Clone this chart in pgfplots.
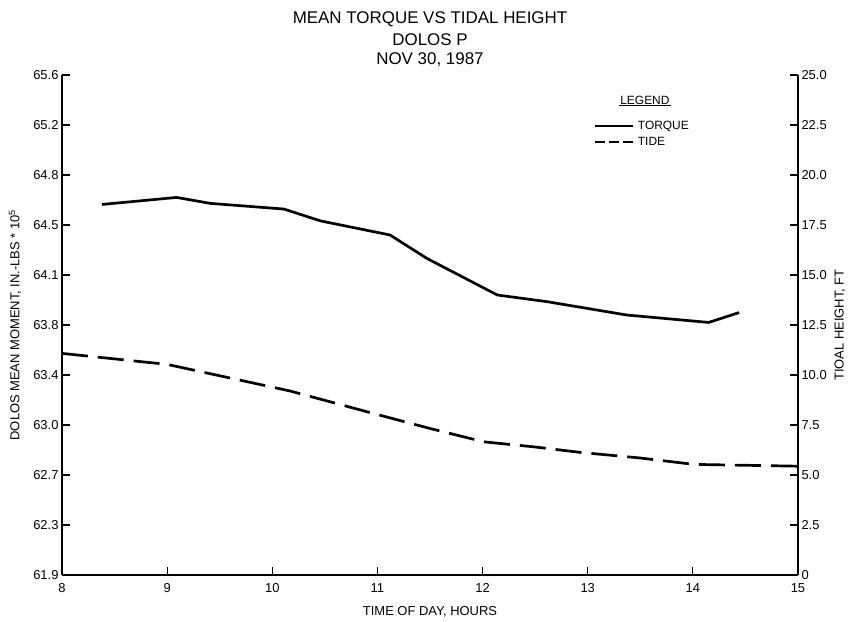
\documentclass[border=0pt]{standalone}
\usepackage{fontspec}
\setmainfont{Liberation Sans}
\usepackage{pgfplots}
\pgfplotsset{compat=1.18}
\begin{document}
\begin{tikzpicture}
\path[use as bounding box] (-62bp,-47bp) rectangle (794bp,575bp);
\pgfplotsset{
  base/.style={
    at={(0,0)}, anchor=south west,
    width=736bp, height=500bp, scale only axis,
    xmin=8, xmax=15,
    tick align=inside, major tick length=8bp,
    every tick/.style={black, line width=1.2bp},
    axis line style={line width=1.4bp},
    tick label style={font=\fontsize{13}{15}\selectfont},
    label style={font=\fontsize{13}{15}\selectfont},
    /pgf/number format/assume math mode=true,
  }
}
\begin{axis}[base,
  ymin=61.9, ymax=65.6,
  axis x line*=bottom, axis y line*=left,
  xtick={8,9,10,11,12,13,14,15},
  xticklabel style={yshift=-5bp},
  ytick={61.9,62.27,62.64,63.01,63.38,63.75,64.12,64.49,64.86,65.23,65.6},
  yticklabels={61.9,62.3,62.7,63.0,63.4,63.8,64.1,64.5,64.8,65.2,65.6},
  xlabel={TIME OF DAY, HOURS},
  xlabel style={at={(rel axis cs:0.5,0)}, yshift=-37bp, anchor=center},
  ylabel={DOLOS MEAN MOMENT, IN.-LBS * 10\textsuperscript{5}},
  ylabel style={at={(rel axis cs:0,0.5)}, yshift=47bp, anchor=center},
  legend style={draw=none, fill=none, at={(rel axis cs:0.7215,0.91)}, anchor=north west,
    inner sep=0pt, row sep=4bp, font=\fontsize{12}{14}\selectfont,
    nodes={inner sep=1bp, anchor=west}},
  legend cell align=left,
  legend image code/.code={\draw[#1] (0bp,0bp) -- (38bp,0bp);},
]
\addplot[black, line width=2.7bp] coordinates {
 (8.38,64.642) (9.09,64.694) (9.41,64.650) (10.11,64.608) (10.46,64.520)
 (11.12,64.416) (11.47,64.243) (12.14,63.972) (12.61,63.923) (13.37,63.824)
 (14.15,63.769) (14.44,63.842)
};
\addlegendentry{\hspace{3bp}TORQUE}
\addlegendimage{black, line width=2.7bp, dash pattern=on 10bp off 4bp}
\addlegendentry{\hspace{3bp}TIDE}
\node[font=\fontsize{12}{14}\selectfont, inner sep=1bp] (lg) at (rel axis cs:0.792,0.95) {LEGEND};
\draw[line width=1.3bp] (lg.south west) -- (lg.south east);
\end{axis}
\begin{axis}[base,
  ymin=0, ymax=25,
  axis x line=none, axis y line*=right,
  ytick={0,2.5,5,7.5,10,12.5,15,17.5,20,22.5,25},
  yticklabels={0,2.5,5.0,7.5,10.0,12.5,15.0,17.5,20.0,22.5,25.0},
  ylabel={TIOAL HEIGHT, FT},
  ylabel style={at={(rel axis cs:1,0.5)}, yshift=-42bp, anchor=center},
]
\addplot[black, line width=2.7bp, dash pattern=on 26bp off 10bp] coordinates {
 (8.0,11.08) (9.0,10.53) (10.17,9.2) (10.93,8.12) (11.49,7.34) (12.01,6.66)
 (12.5,6.4) (12.93,6.13) (13.5,5.85) (14.01,5.53) (15.0,5.44)
};
\end{axis}
\node[font=\fontsize{17}{20}\selectfont] at (368bp,556bp) {MEAN TORQUE VS TIDAL HEIGHT};
\node[font=\fontsize{17}{20}\selectfont] at (368bp,535bp) {DOLOS P};
\node[font=\fontsize{17}{20}\selectfont] at (368bp,515bp) {NOV 30, 1987};
\end{tikzpicture}
\end{document}
